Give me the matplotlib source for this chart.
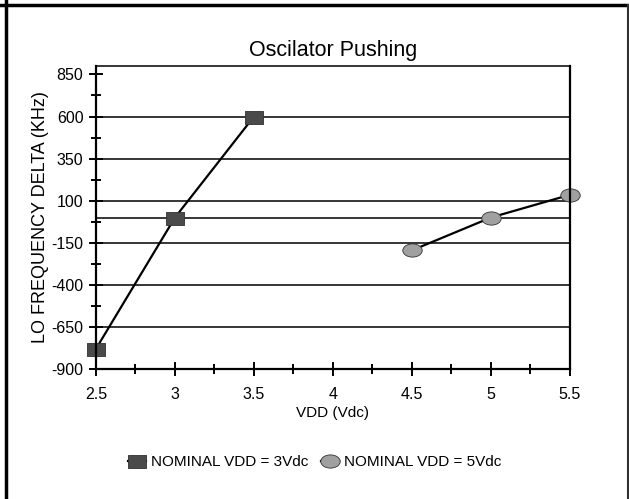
import numpy as np
import matplotlib.pyplot as plt
from matplotlib.path import Path
from matplotlib.transforms import Affine2D
from matplotlib.lines import Line2D

# Data
vdd_3v = [2.5, 3.0, 3.5]
delta_3v = [-780, 0, 600]
vdd_5v = [4.5, 5.0, 5.5]
delta_5v = [-195, 0, 135]

x_ticks = [2.5, 3, 3.5, 4, 4.5, 5, 5.5]
x_labels = ["2.5", "3", "3.5", "4", "4.5", "5", "5.5"]
y_ticks = [-900, -650, -400, -150, 100, 350, 600, 850]

plt.rcParams['font.family'] = ['Liberation Sans', 'DejaVu Sans']
plt.rcParams['axes.unicode_minus'] = False

# rectangle and flat ellipse markers like the original
rect_marker = Path([(-1, -0.72), (1, -0.72), (1, 0.72), (-1, 0.72), (-1, -0.72)],
                   [Path.MOVETO, Path.LINETO, Path.LINETO, Path.LINETO, Path.CLOSEPOLY])
ellipse_marker = Path.unit_circle().transformed(Affine2D().scale(1.0, 0.68))

fig = plt.figure(figsize=(6.29, 4.99), dpi=100)
ax = fig.add_axes([0.1526, 0.2605, 0.7536, 0.6072])

# horizontal grid lines at the major ticks (not at the top one) plus zero line
for yv in y_ticks[1:-1] + [0]:
    ax.axhline(yv, color='black', lw=1.1, zorder=1)

ax.plot(vdd_3v, delta_3v, color='black', lw=1.6, zorder=2,
        marker=rect_marker, markersize=13, markerfacecolor='#4a4a4a',
        markeredgecolor='#303030', markeredgewidth=0.6, clip_on=False,
        label='NOMINAL VDD = 3Vdc')
ax.plot(vdd_5v, delta_5v, color='black', lw=1.6, zorder=2,
        marker=ellipse_marker, markersize=14, markerfacecolor='#a0a0a0',
        markeredgecolor='#303030', markeredgewidth=0.6, clip_on=False,
        label='NOMINAL VDD = 5Vdc')

ax.set_xlim(2.5, 5.5)
ax.set_ylim(-900, 900)
ax.set_xticks(x_ticks)
ax.set_xticklabels(x_labels)
ax.set_xticks(np.arange(2.75, 5.5, 0.5), minor=True)
ax.set_yticks(y_ticks)
ax.set_yticks(np.arange(-775, 900, 250), minor=True)

for side in ['left', 'bottom', 'right']:
    ax.spines[side].set_linewidth(1.6)
ax.spines['top'].set_linewidth(1.1)

ax.tick_params(axis='both', which='major', direction='inout', length=10, width=1.4,
               labelsize=11.5)
ax.tick_params(axis='y', which='major', pad=4)
ax.tick_params(axis='x', which='major', pad=8)
ax.tick_params(axis='both', which='minor', direction='inout', length=7, width=1.4)
ax.tick_params(axis='y', which='both', right=False)

ax.set_title('Oscilator Pushing', fontsize=15.5, pad=7)
ax.set_xlabel('VDD (Vdc)', fontsize=11, labelpad=3)
ax.set_ylabel('LO FREQUENCY DELTA (KHz)', fontsize=13, labelpad=2)

fig.legend(loc='center', bbox_to_anchor=(0.50, 0.074), ncol=2, frameon=False,
           fontsize=11, handlelength=1.2, handletextpad=0.3, columnspacing=0.8,
           borderaxespad=0)

# outer cell border of the source document
fig.add_artist(Line2D([0, 1], [0.989, 0.989], transform=fig.transFigure, color='black', lw=2.5))
fig.add_artist(Line2D([0.009, 0.009], [0, 1], transform=fig.transFigure, color='black', lw=2.5))
fig.add_artist(Line2D([0.998, 0.998], [0, 0.989], transform=fig.transFigure, color='#303030', lw=1.5))

fig.savefig('out.png', dpi=100)
